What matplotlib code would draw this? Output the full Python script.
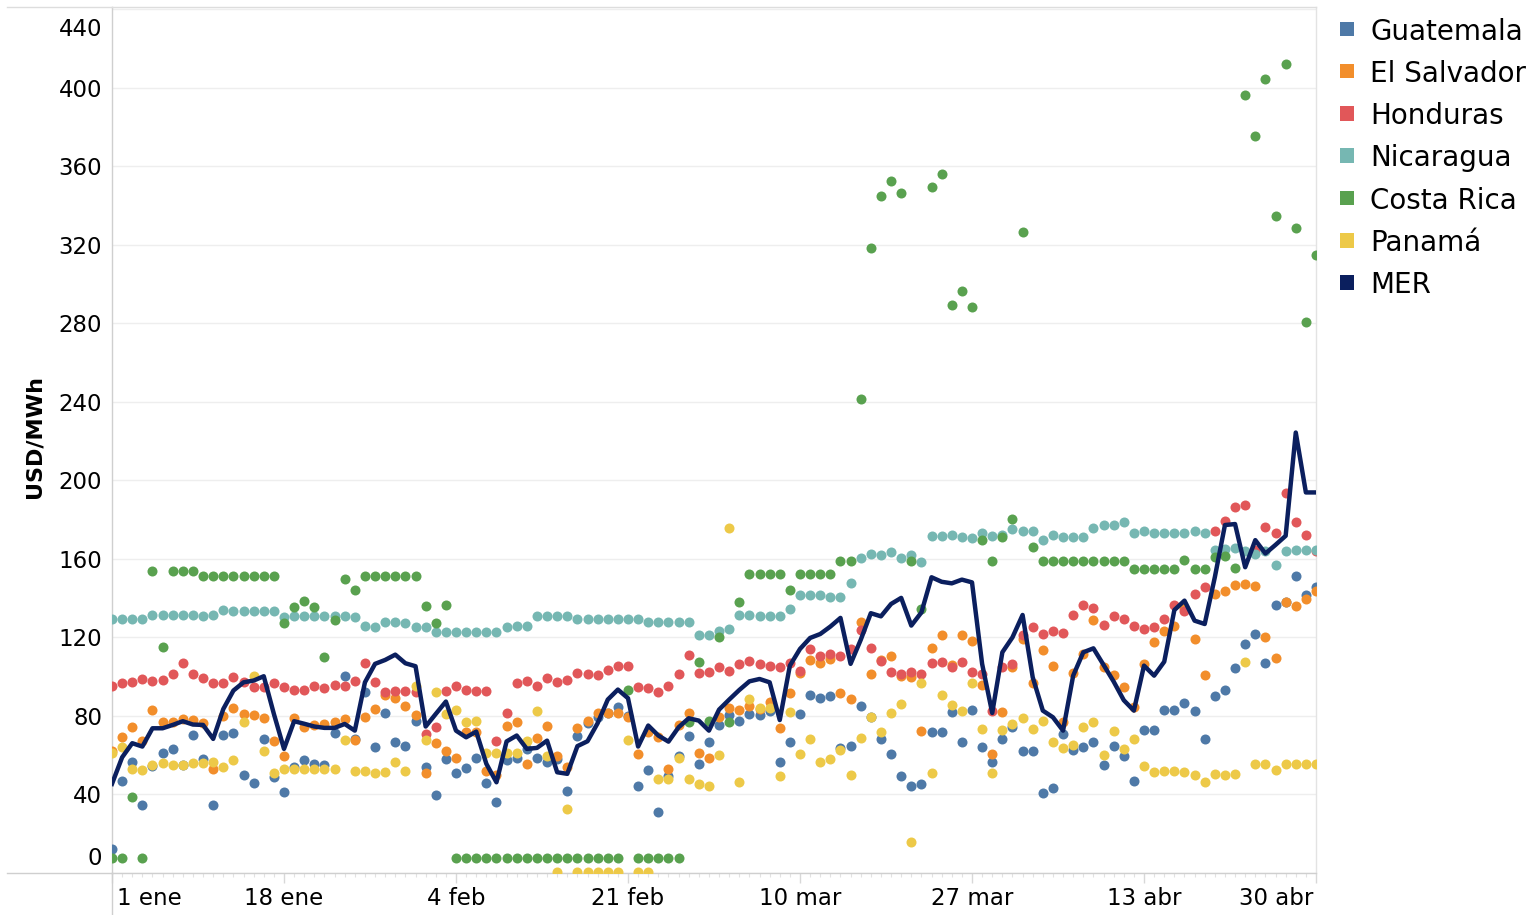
import numpy as np
import pandas as pd
import matplotlib
matplotlib.use("Agg")
import matplotlib.pyplot as plt
import matplotlib.transforms as mtransforms
from matplotlib.patches import Rectangle
from matplotlib.lines import Line2D

# precios diarios USD/MWh, 1 ene - 30 abr
fechas = pd.date_range("2023-01-01", "2023-04-30", freq="D")

guatemala = [
    12.3, 46.7, 56.7, 34.8, 54.4, 61.2, 63.4, 55.0, 70.5, 57.8,
    34.8, 70.5, 71.3, 50.1, 45.7, 68.3, 49.1, 41.3, 54.2, 57.3,
    55.6, 55.0, 71.2, 100.2, 68.0, 92.0, 64.0, 81.5, 66.9, 64.6,
    77.6, 54.2, 39.8, 57.8, 50.8, 53.5, 58.5, 45.7, 36.4, 57.3,
    58.5, 63.2, 58.5, 56.7, 58.1, 41.6, 70.0, 76.3, 79.3, 81.5,
    84.4, 80.2, 44.2, 52.2, 31.0, 49.6, 59.5, 69.6, 55.6, 66.9,
    75.4, 80.5, 77.6, 81.0, 80.5, 82.7, 56.7, 66.9, 81.0, 90.8,
    89.1, 90.3, 63.7, 64.9, 84.9, 79.6, 68.3, 60.6, 49.6, 44.2,
    45.4, 71.7, 71.7, 81.8, 66.9, 83.0, 64.4, 56.7, 68.3, 74.2,
    62.3, 62.3, 40.8, 43.2, 70.8, 62.7, 64.4, 66.6, 55.0, 64.9,
    59.5, 47.1, 72.9, 72.9, 83.0, 83.0, 86.4, 82.7, 68.3, 90.3,
    93.2, 104.2, 116.6, 121.7, 106.8, 136.5, 138.0, 151.4, 141.5, 145.5,
]
el_salvador = [
    62.0, 69.5, 74.6, 67.4, 83.2, 76.8, 77.1, 78.5, 77.9, 76.2,
    53.0, 80.2, 83.9, 81.0, 80.5, 78.8, 67.4, 59.5, 79.0, 74.2,
    75.6, 75.9, 76.8, 78.5, 67.8, 79.3, 83.5, 90.8, 89.1, 85.2,
    80.7, 50.9, 66.1, 62.0, 58.5, 72.0, 71.7, 51.9, 50.1, 75.1,
    76.8, 55.6, 68.8, 75.1, 59.8, 53.9, 73.7, 77.6, 81.3, 81.7,
    81.5, 79.3, 60.6, 71.7, 69.1, 53.0, 75.6, 81.3, 61.2, 58.5,
    79.6, 84.1, 83.2, 84.9, 83.5, 86.9, 73.9, 91.5, 101.9, 108.5,
    106.8, 109.0, 91.5, 88.6, 128.0, 101.4, 108.5, 110.7, 100.2, 99.7,
    72.2, 114.6, 121.2, 106.1, 121.2, 118.3, 95.9, 60.6, 82.2, 104.8,
    119.2, 96.6, 113.6, 105.3, 76.8, 101.9, 111.5, 129.0, 104.8, 100.8,
    94.9, 84.4, 106.4, 117.5, 123.4, 126.0, 134.7, 119.2, 101.0, 142.1,
    143.8, 146.6, 147.2, 146.0, 120.0, 109.3, 137.8, 135.8, 139.5, 143.8,
]
honduras = [
    95.1, 96.6, 97.5, 98.8, 97.9, 98.5, 101.4, 106.8, 101.4, 99.2,
    96.8, 96.8, 99.7, 97.1, 94.6, 94.6, 96.6, 94.6, 93.4, 93.4,
    95.2, 94.1, 95.9, 95.2, 98.0, 106.8, 97.1, 92.4, 92.6, 92.9,
    92.0, 70.8, 74.2, 92.9, 95.4, 93.4, 92.9, 92.9, 67.4, 81.5,
    96.6, 98.0, 95.4, 99.2, 97.5, 98.5, 101.9, 101.4, 100.9, 103.6,
    105.3, 105.3, 94.9, 94.2, 92.0, 95.4, 101.4, 111.2, 101.9, 102.2,
    104.8, 102.7, 106.5, 107.8, 106.5, 105.3, 104.8, 107.0, 103.1, 114.1,
    110.4, 111.5, 110.7, 114.1, 123.8, 114.6, 108.0, 102.5, 101.4, 102.2,
    101.4, 106.8, 107.3, 104.8, 107.3, 102.6, 101.4, 82.4, 104.8, 106.5,
    121.4, 125.1, 121.7, 123.4, 122.2, 131.5, 136.6, 134.9, 126.5, 131.0,
    129.3, 126.0, 124.3, 125.4, 129.3, 136.6, 133.3, 142.1, 145.5, 174.3,
    179.0, 186.2, 187.5, 164.6, 176.3, 172.9, 193.3, 178.8, 172.2, 164.1,
]
nicaragua = [
    129.3, 129.3, 129.3, 129.3, 131.5, 131.5, 131.5, 131.5, 131.5, 131.0,
    131.5, 133.9, 133.6, 133.6, 133.6, 133.6, 133.2, 130.5, 131.0, 131.0,
    131.0, 131.0, 131.0, 131.0, 130.5, 125.6, 125.1, 127.6, 127.6, 127.1,
    125.1, 125.1, 122.6, 122.6, 122.6, 122.6, 122.6, 122.6, 122.6, 125.1,
    125.6, 125.6, 131.0, 131.0, 131.0, 131.0, 129.3, 129.3, 129.3, 129.3,
    129.3, 129.3, 129.3, 127.6, 127.6, 127.6, 127.6, 127.6, 121.2, 121.2,
    123.4, 124.2, 131.5, 131.5, 131.0, 131.0, 131.0, 134.4, 141.6, 141.6,
    141.6, 140.4, 140.4, 147.7, 160.2, 162.4, 161.9, 163.6, 160.2, 161.9,
    158.5, 171.8, 171.8, 172.3, 171.3, 170.6, 172.9, 171.8, 172.3, 175.2,
    174.0, 174.0, 169.6, 172.3, 171.3, 171.3, 171.3, 175.7, 177.4, 177.2,
    178.5, 172.9, 174.0, 172.9, 172.9, 173.1, 172.9, 174.0, 172.9, 164.5,
    165.0, 165.3, 163.8, 162.4, 164.0, 157.0, 164.1, 164.5, 164.6, 164.6,
]
costa_rica = [
    7.7, 7.7, 38.6, 7.7, 153.6, 114.9, 153.6, 153.6, 153.6, 151.4,
    151.4, 151.4, 151.4, 151.4, 151.4, 151.4, 151.4, 127.1, 135.7, 138.7,
    135.6, 109.8, 128.9, 149.9, 144.3, 151.4, 151.4, 151.4, 151.4, 151.4,
    151.4, 136.0, 127.1, 136.5, 7.7, 7.7, 7.7, 7.7, 7.7, 7.7,
    7.7, 7.7, 7.7, 7.7, 7.7, 7.7, 7.7, 7.7, 7.7, 7.7,
    7.7, 93.0, 7.7, 7.7, 7.7, 7.7, 7.7, 76.8, 107.3, 77.3,
    120.0, 77.1, 137.8, 152.2, 152.2, 152.2, 152.2, 144.3, 152.2, 152.2,
    152.2, 152.2, 159.0, 159.0, 241.3, 318.2, 344.6, 352.3, 346.3, 159.0,
    134.4, 349.5, 356.1, 289.2, 296.3, 288.0, 169.6, 159.0, 171.3, 180.2,
    326.5, 165.9, 159.0, 159.0, 159.0, 159.0, 159.0, 159.0, 159.0, 159.0,
    159.0, 155.0, 155.0, 155.0, 155.0, 155.0, 159.5, 155.0, 155.0, 160.7,
    161.6, 155.1, 396.3, 375.5, 404.5, 334.8, 411.8, 328.7, 280.8, 314.8,
]
panama = [
    61.2, 64.4, 53.0, 52.5, 55.0, 56.1, 55.0, 55.0, 56.1, 56.1,
    56.4, 54.0, 57.3, 77.1, 100.1, 62.3, 50.8, 53.0, 53.0, 53.0,
    53.0, 53.0, 53.0, 67.8, 51.9, 51.9, 50.8, 51.3, 56.4, 51.9,
    95.4, 67.8, 92.0, 81.0, 83.2, 76.8, 77.6, 61.2, 61.2, 61.2,
    61.2, 67.4, 82.4, 59.8, 0.5, 32.4, 0.5, 0.5, 0.5, 0.5,
    0.5, 67.8, 0.5, 0.5, 47.9, 47.9, 58.4, 47.9, 45.4, 44.2,
    60.1, 175.7, 46.2, 88.6, 83.8, 84.0, 49.6, 81.8, 60.6, 68.3,
    56.7, 58.1, 62.8, 50.1, 68.8, 79.3, 71.7, 81.5, 86.1, 15.7,
    96.8, 50.8, 90.8, 85.6, 82.7, 96.6, 73.4, 50.8, 72.9, 75.9,
    78.8, 73.4, 77.6, 66.9, 63.5, 65.2, 74.2, 76.8, 60.1, 72.2,
    63.2, 68.3, 54.4, 51.3, 51.8, 51.8, 51.3, 49.9, 46.2, 50.5,
    49.9, 50.5, 107.3, 55.6, 55.6, 52.5, 55.6, 55.6, 55.6, 55.6,
]
mer = [
    45.4, 58.9, 66.1, 64.4, 73.7, 73.7, 75.4, 77.3, 75.6, 75.4,
    68.3, 83.5, 92.9, 97.1, 98.0, 100.2, 81.0, 63.2, 77.3, 76.0,
    74.6, 73.9, 73.9, 75.9, 72.5, 97.1, 106.5, 108.5, 111.2, 106.8,
    105.3, 74.6, 81.0, 87.3, 72.5, 69.1, 72.0, 55.6, 46.2, 67.0,
    70.0, 63.2, 63.7, 67.4, 51.3, 50.5, 64.6, 67.1, 76.3, 88.3,
    93.4, 89.0, 64.4, 75.1, 70.0, 66.9, 74.2, 78.8, 77.6, 72.5,
    83.2, 88.3, 93.2, 97.6, 98.8, 97.1, 77.9, 105.6, 114.1, 119.7,
    121.7, 125.5, 129.9, 106.5, 118.7, 132.3, 130.7, 137.0, 140.1, 126.0,
    132.7, 150.6, 148.3, 147.5, 149.4, 148.0, 106.5, 81.5, 112.4, 120.0,
    131.4, 99.7, 82.7, 79.3, 72.5, 100.5, 112.4, 114.4, 106.0, 97.5,
    88.0, 82.7, 105.6, 100.5, 107.6, 133.9, 138.7, 128.5, 126.8, 150.6,
    177.2, 177.7, 155.7, 169.5, 162.7, 167.1, 171.7, 224.3, 193.8, 193.8,
]

paises = ["Guatemala", "El Salvador", "Honduras", "Nicaragua", "Costa Rica", "Panamá"]
series = [guatemala, el_salvador, honduras, nicaragua, costa_rica, panama]
colores = ["#4e79a7", "#f28e2b", "#e15759", "#76b7b2", "#59a14f", "#edc948"]
color_mer = "#0b1f5e"
meses = {1: "ene", 2: "feb", 3: "mar", 4: "abr"}

W, H = 1539, 915
fig = plt.figure(figsize=(W / 100, H / 100), dpi=100)
ax = fig.add_axes([112 / W, (H - 873) / H, (1316 - 112) / W, (873 - 7) / H])

for vals, col in zip(series, colores):
    ax.scatter(fechas, vals, s=52, color=col, linewidths=0, zorder=3)
ax.plot(fechas, mer, color=color_mer, lw=3.2, zorder=4, solid_joinstyle="round")

ax.set_xlim(fechas[0], fechas[-1])
ax.set_ylim(0, 441)

# eje y
ax.set_yticks(range(0, 441, 40))
ax.tick_params(axis="y", length=0, pad=7, labelsize=16.5)
ylabs = ax.get_yticklabels()
ylabs[0].set_va("bottom")
ylabs[0].set_transform(ylabs[0].get_transform() +
                       mtransforms.ScaledTranslation(0, 0.03, fig.dpi_scale_trans))
ylabs[-1].set_va("top")
ylabs[-1].set_transform(ylabs[-1].get_transform() +
                        mtransforms.ScaledTranslation(0, -0.09, fig.dpi_scale_trans))
ax.yaxis.grid(True, color="#eeeeee", lw=1)
ax.set_axisbelow(True)

# eje x
xt = fechas[::17]
ax.set_xticks(xt)
ax.set_xticklabels([f"{d.day} {meses[d.month]}" for d in xt])
ax.set_xticks(fechas, minor=True)
ax.tick_params(axis="x", which="major", length=7, width=1, color="#d8d8d8",
               pad=3, labelsize=16.5)
ax.tick_params(axis="x", which="minor", length=3, width=0.8, color="#e2e2e2")
xlabs = ax.get_xticklabels()
xlabs[0].set_ha("left")
xlabs[0].set_transform(xlabs[0].get_transform() +
                       mtransforms.ScaledTranslation(0.05, 0, fig.dpi_scale_trans))
xlabs[-1].set_ha("right")
xlabs[-1].set_transform(xlabs[-1].get_transform() +
                        mtransforms.ScaledTranslation(-0.03, 0, fig.dpi_scale_trans))

for side, c in [("left", "#cfcfcf"), ("bottom", "#cfcfcf"), ("top", "#dddddd"), ("right", "#e3e3e3")]:
    ax.spines[side].set_color(c)
    ax.spines[side].set_linewidth(1)

# prolongaciones de las líneas del panel (estilo Tableau)
fig.add_artist(Line2D([7 / W, 112 / W], [1 - 873 / H] * 2, color="#cfcfcf", lw=1))
fig.add_artist(Line2D([7 / W, 112 / W], [1 - 6.5 / H] * 2, color="#dddddd", lw=1))
fig.add_artist(Line2D([112 / W] * 2, [0, 1 - 873 / H], color="#cfcfcf", lw=1))

fig.text(34 / W, 1 - 437 / H, "USD/MWh", rotation=90, fontsize=16,
         fontweight="bold", ha="center", va="center")

# leyenda
nombres = paises + ["MER"]
cols_ley = colores + [color_mer]
for i, (nom, col) in enumerate(zip(nombres, cols_ley)):
    base = 39.5 + i * 42.3
    fig.add_artist(Rectangle((1339.5 / W, 1 - (base - 3.5) / H), 14.5 / W, 14.5 / H,
                             transform=fig.transFigure, color=col, lw=0))
    fig.text(1370 / W, 1 - base / H, nom, fontsize=20, ha="left", va="baseline")

fig.savefig("out.png", dpi=100)
